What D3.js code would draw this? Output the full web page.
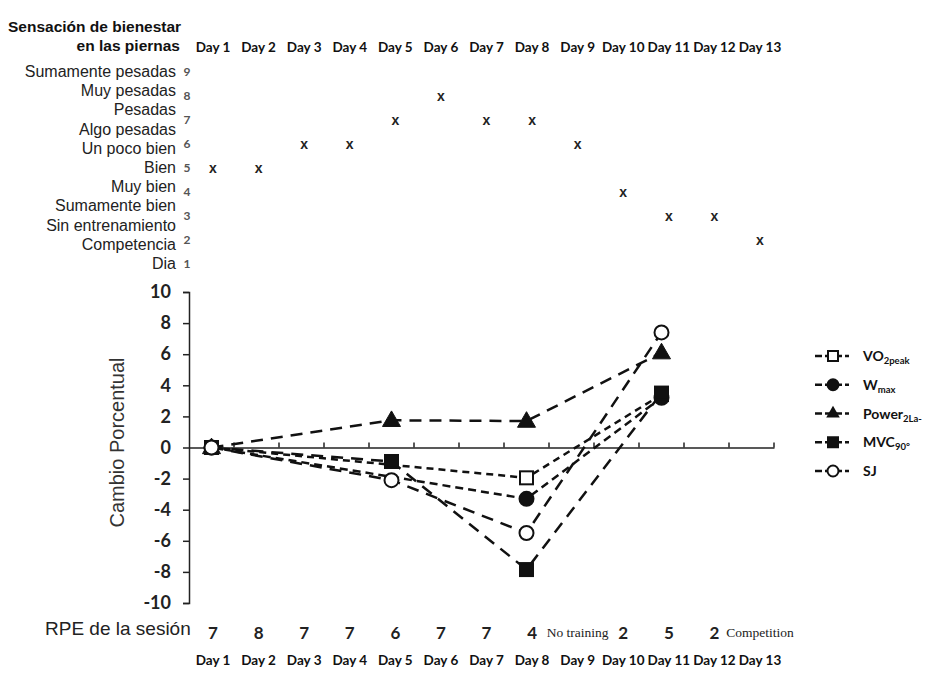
<!DOCTYPE html>
<html><head><meta charset="utf-8">
<script src="https://cdn.jsdelivr.net/npm/d3@7"></script>
<style>body{margin:0;background:#fff}</style>
</head><body>
<svg id="c" width="938" height="689"></svg>
<script>
const days = ["Day 1","Day 2","Day 3","Day 4","Day 5","Day 6","Day 7","Day 8","Day 9","Day 10","Day 11","Day 12","Day 13"];
const wellbeing = [5,5,6,6,7,8,7,7,6,4,3,3,2];
const wellbeingTicks = [9,8,7,6,5,4,3,2,1];
const wellbeingLabels = ["Sumamente pesadas","Muy pesadas","Pesadas","Algo pesadas","Un poco bien","Bien","Muy bien","Sumamente bien","Sin entrenamiento","Competencia","Dia"];
const rpe = ["7","8","7","7","6","7","7","4","No training","2","5","2","Competition"];
const yTicks = [10,8,6,4,2,0,-2,-4,-6,-8,-10];
const seriesNames = ["VO2peak","Wmax","Power2La-","MVC90°","SJ"];
const vo2peak = [[ "Day 1",0],["Day 8",-1.95],["Day 11",3.4]];
const wmax = [[ "Day 1",0],["Day 8",-3.3],["Day 11",3.2]];
const power = [[ "Day 1",0],["Day 5",1.75],["Day 8",1.7],["Day 11",6.1]];
const mvc = [[ "Day 1",0],["Day 5",-0.9],["Day 8",-7.85],["Day 11",3.5]];
const sj = [[ "Day 1",0],["Day 5",-2.1],["Day 8",-5.5],["Day 11",7.4]];

const svg = d3.select("#c");
const cal = "Lato, 'Open Sans', sans-serif";
const ari = "'Liberation Sans', Arial, sans-serif";
const ser = "'Liberation Serif', 'Times New Roman', serif";

// ---------- top section ----------
const xTop = d3.scalePoint().domain(days).range([213, 760]);
const yTop = d3.scaleLinear().domain([1,9]).range([264, 72]);

svg.append("text").attr("x",8).attr("y",32).attr("font-family",ari).attr("font-weight","bold").attr("font-size",15.5).attr("fill","#111").text("Sensación de bienestar");
svg.append("text").attr("x",180).attr("y",51).attr("text-anchor","end").attr("font-family",ari).attr("font-weight","bold").attr("font-size",15.5).attr("fill","#111").text("en las piernas");

svg.append("g").selectAll("text").data(days).join("text")
  .attr("x",d=>xTop(d)).attr("y",52).attr("text-anchor","middle")
  .attr("font-family",cal).attr("font-weight","bold").attr("font-size",13.5).attr("fill","#111").text(d=>d);

svg.append("g").selectAll("text").data(wellbeingTicks).join("text")
  .attr("x",187).attr("y",d=>yTop(d)+4).attr("text-anchor","middle")
  .attr("font-family",cal).attr("font-weight","bold").attr("font-size",12).attr("fill","#555").text(d=>d);

const yLab = d3.scalePoint().domain(wellbeingLabels).range([72, 264]);
svg.append("g").selectAll("text").data(wellbeingLabels).join("text")
  .attr("x",176).attr("y",d=>yLab(d)+5).attr("text-anchor","end")
  .attr("font-family",ari).attr("font-size",16).attr("fill","#222").text(d=>d);

svg.append("g").selectAll("text").data(days).join("text")
  .attr("x",d=>xTop(d)).attr("y",(d,i)=>yTop(wellbeing[i])+5).attr("text-anchor","middle")
  .attr("font-family",ari).attr("font-weight","bold").attr("font-size",14).attr("fill","#222").text("x");

// ---------- main chart ----------
const x = d3.scaleBand().domain(days).range([189, 774]);
const y = d3.scaleLinear().domain([-10,10]).range([603, 292]);
const cx = d => x(d) + x.bandwidth()/2;

const yAxis = d3.axisLeft(y).tickValues(yTicks).tickSize(6).tickPadding(12).tickFormat(d=>String(d));
const gy = svg.append("g").attr("transform","translate(189,0)").call(yAxis);
gy.select(".domain").attr("stroke","#222").attr("stroke-width",1.5);
gy.selectAll(".tick line").attr("stroke","#222").attr("stroke-width",1.5);
gy.selectAll(".tick text").attr("font-family",cal).attr("font-weight","bold").attr("font-size",18).attr("fill","#222");

const xAxis = d3.axisTop(x).tickSize(0).tickFormat("");
const gx = svg.append("g").attr("transform",`translate(0,${y(0)})`).call(xAxis);
gx.select(".domain").attr("stroke","#222").attr("stroke-width",1.5);
gx.selectAll(".tick").remove();
svg.append("g").selectAll("line").data(days).join("line")
  .attr("x1",d=>x(d)+x.bandwidth()).attr("x2",d=>x(d)+x.bandwidth())
  .attr("y1",y(0)).attr("y2",y(0)-5).attr("stroke","#222").attr("stroke-width",1.5);

svg.append("text").attr("transform",`translate(124,${y(0)-5}) rotate(-90)`).attr("text-anchor","middle")
  .attr("font-family",ari).attr("font-size",20).attr("fill","#333").text("Cambio Porcentual");

const series = [
  {name:"VO2peak", data:vo2peak, dash:"7,5", sym:"square", fill:"#fff"},
  {name:"Wmax", data:wmax, dash:"8,5", sym:"circle", fill:"#111"},
  {name:"Power2La-", data:power, dash:"12,8", sym:"triangle", fill:"#111"},
  {name:"MVC90°", data:mvc, dash:"12,8", sym:"square", fill:"#111"},
  {name:"SJ", data:sj, dash:"12,8", sym:"circle", fill:"#fff"}
];
const line = d3.line().x(d=>cx(d[0])).y(d=>y(d[1]));
series.forEach(s=>{
  svg.append("path").attr("d",line(s.data)).attr("fill","none").attr("stroke","#111")
    .attr("stroke-width",2.5).attr("stroke-dasharray",s.dash);
});
function drawSym(g, sym, px, py, fill){
  if(sym==="square") g.append("rect").attr("x",px-6.5).attr("y",py-6.5).attr("width",13).attr("height",13).attr("fill",fill).attr("stroke","#111").attr("stroke-width",2);
  else if(sym==="circle") g.append("circle").attr("cx",px).attr("cy",py).attr("r",7).attr("fill",fill).attr("stroke","#111").attr("stroke-width",2);
  else g.append("path").attr("d",d3.symbol(d3.symbolTriangle,140)()).attr("transform",`translate(${px},${py+1})`).attr("fill",fill).attr("stroke","#111").attr("stroke-width",1);
}
const mg = svg.append("g");
series.forEach(s=>{ s.data.forEach(d=>drawSym(mg, s.sym, cx(d[0]), y(d[1]), s.fill)); });

// legend
const legY = d3.scalePoint().domain(seriesNames).range([356, 471]);
const subs = {"VO2peak":["VO","2peak"],"Wmax":["W","max"],"Power2La-":["Power","2La-"],"MVC90°":["MVC","90°"],"SJ":["SJ",""]};
series.forEach(s=>{
  const ly = legY(s.name);
  svg.append("line").attr("x1",815).attr("x2",849).attr("y1",ly).attr("y2",ly).attr("stroke","#111").attr("stroke-width",2.5).attr("stroke-dasharray","7,3");
  const lg = svg.append("g");
  if(s.sym==="square") lg.append("rect").attr("x",833-5).attr("y",ly-5).attr("width",10).attr("height",10).attr("fill",s.fill).attr("stroke","#111").attr("stroke-width",2);
  else if(s.sym==="circle") lg.append("circle").attr("cx",833).attr("cy",ly).attr("r",5.5).attr("fill",s.fill).attr("stroke","#111").attr("stroke-width",2);
  else lg.append("path").attr("d",d3.symbol(d3.symbolTriangle,80)()).attr("transform",`translate(833,${ly})`).attr("fill",s.fill);
  const t = svg.append("text").attr("x",863).attr("y",ly+5).attr("font-family",cal).attr("font-weight","bold").attr("font-size",14).attr("fill","#111");
  t.append("tspan").text(subs[s.name][0]);
  if(subs[s.name][1]) t.append("tspan").attr("font-size",9.5).attr("dy",3).text(subs[s.name][1]);
});

// ---------- RPE ----------
svg.append("text").attr("x",45).attr("y",635).attr("font-family",ari).attr("font-size",19).attr("fill","#222").text("RPE de la sesión");
svg.append("g").selectAll("text").data(days).join("text")
  .attr("x",d=>xTop(d)).attr("y",(d,i)=>isNaN(+rpe[i])?637:639).attr("text-anchor","middle")
  .attr("font-family",(d,i)=>isNaN(+rpe[i])?ser:cal)
  .attr("font-weight",(d,i)=>isNaN(+rpe[i])?"normal":"bold")
  .attr("font-size",(d,i)=>isNaN(+rpe[i])?13.5:17).attr("fill","#222").text((d,i)=>rpe[i]);

svg.append("g").selectAll("text").data(days).join("text")
  .attr("x",d=>xTop(d)).attr("y",665).attr("text-anchor","middle")
  .attr("font-family",cal).attr("font-weight","bold").attr("font-size",13.5).attr("fill","#111").text(d=>d);
</script>
</body></html>
